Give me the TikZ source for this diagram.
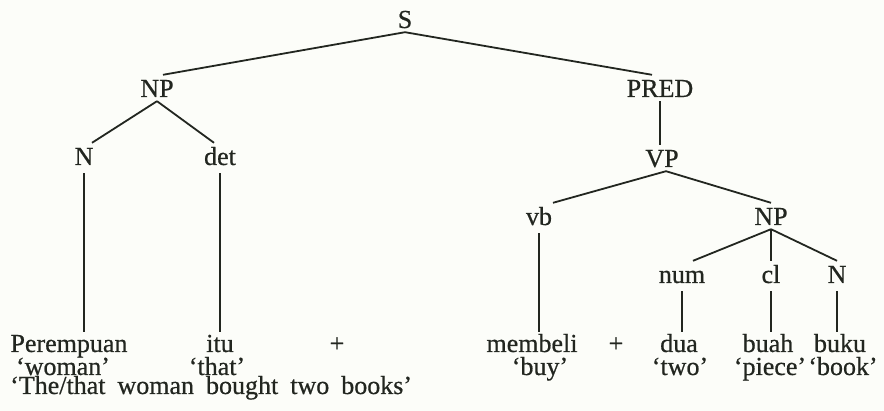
\documentclass[tikz,border=0pt]{standalone}
\usepackage{fontspec}
\setmainfont{Liberation Serif}
\definecolor{ink}{RGB}{34,38,32}
\definecolor{paper}{RGB}{252,253,249}
\begin{document}
\begin{tikzpicture}[x=1pt,y=-1pt,
  font=\fontsize{26}{30}\selectfont\addfontfeature{FakeBold=0.6}, text=ink,
  cat/.style={anchor=base, inner sep=4pt, text height=18pt, text depth=0pt},
  word/.style={anchor=base, inner sep=2pt, text height=18pt, text depth=5pt},
  gloss/.style={anchor=base, inner sep=0pt},
  edge/.style={draw=ink, line width=1.8pt},
  stem/.style={edge, shorten <=4pt}]
\fill[paper] (0,0) rectangle (884,411);
\useasboundingbox (0,0) rectangle (884,411);

% category labels
\node[cat] (S)    at (405,28)  {S};
\node[cat] (NPs)  at (157,97)  {NP};
\node[cat] (PRED) at (660,97)  {PRED};
\node[cat] (Nsub) at (84,165)  {N};
\node[cat] (det)  at (220,165) {det};
\node[cat] (VP)   at (662,167) {VP};
\node[cat] (vb)   at (539,225) {vb};
\node[cat] (NPo)  at (771,225) {NP};
\node[cat] (num)  at (682,283) {num};
\node[cat] (cl)   at (771,283) {cl};
\node[cat] (Nobj) at (837,283) {N};

% Indonesian words
\node[word] (perempuan) at (69,352)  {Perempuan};
\node[word] (itu)       at (220,352) {itu};
\node[word] (plusA)     at (337,352) {+};
\node[word] (membeli)   at (532,352) {membeli};
\node[word] (plusB)     at (616,352) {+};
\node[word] (dua)       at (679,352) {dua};
\node[word] (buah)      at (768,352) {buah};
\node[word] (buku)      at (840,352) {buku};

% glosses
\node[gloss] (gwoman) at (63,375)  {‘woman’};
\node[gloss] (gthat)  at (217,375) {‘that’};
\node[gloss] (gbuy)   at (540,375) {‘buy’};
\node[gloss] (gtwo)   at (680,375) {‘two’};
\node[gloss] (gpiece) at (770,375) {‘piece’};
\node[gloss] (gbook)  at (843,375) {‘book’};

% free translation
\node[gloss, anchor=base west] (transl) at (10,394)
  {\spaceskip=12pt plus 1pt ‘The/that woman bought two books’};

% branches
\draw[edge] (S.south) -- ([xshift=6pt]NPs.north);
\draw[edge] (S.south) -- ([xshift=-8pt]PRED.north);
\draw[edge] (NPs.south) -- ([xshift=8pt]Nsub.north);
\draw[edge] (NPs.south) -- ([xshift=-6pt]det.north);
\draw[edge] (PRED.south) -- (PRED.south |- VP.north);
\draw[edge] ([xshift=4pt]VP.south) -- ([xshift=14pt]vb.north);
\draw[edge] ([xshift=4pt]VP.south) -- (NPo.north);
\draw[edge] (NPo.south) -- ([xshift=11pt]num.north);
\draw[edge] (NPo.south) -- (NPo.south |- cl.north);
\draw[edge] (NPo.south) -- (Nobj.north);

% stems down to the words
\draw[stem] (Nsub.south) -- (Nsub.south |- perempuan.north);
\draw[stem] (det.south)  -- (det.south |- itu.north);
\draw[stem] (vb.south)   -- (vb.south |- membeli.north);
\draw[stem] (num.south)  -- (num.south |- dua.north);
\draw[stem] (cl.south)   -- (cl.south |- buah.north);
\draw[stem] (Nobj.south) -- (Nobj.south |- buku.north);
\end{tikzpicture}
\end{document}
